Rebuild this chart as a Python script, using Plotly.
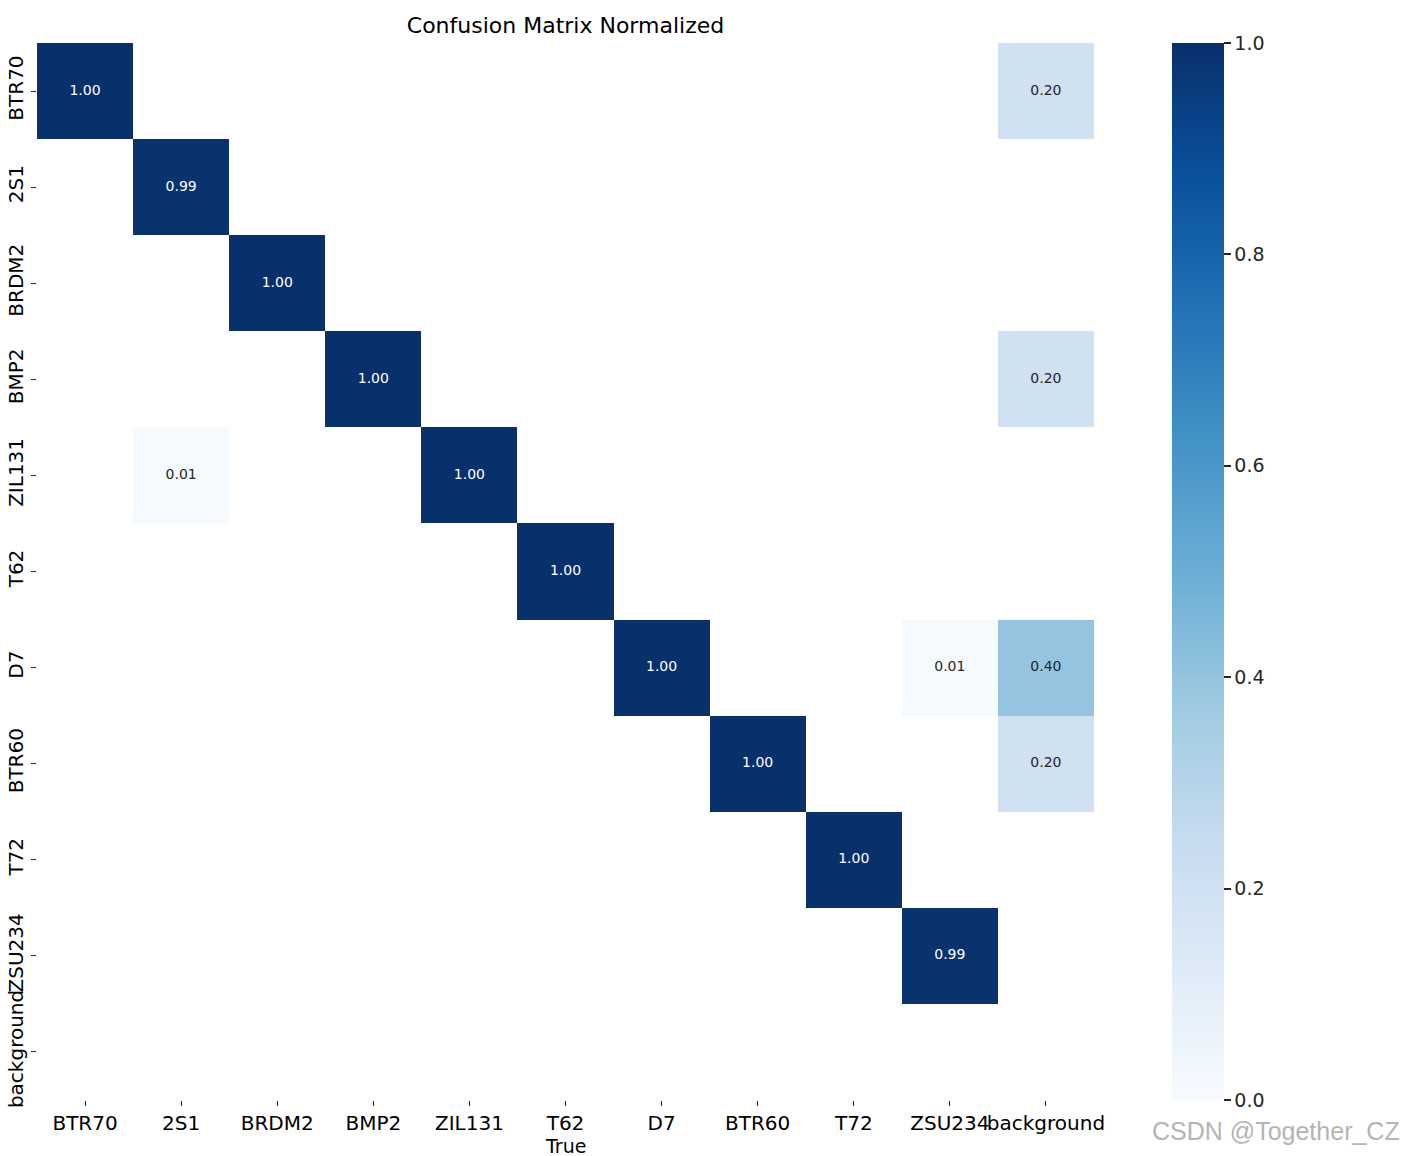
import numpy as np
import plotly.graph_objects as go

labels = ["BTR70", "2S1", "BRDM2", "BMP2", "ZIL131", "T62", "D7", "BTR60", "T72", "ZSU234", "background"]

# rows = predicted, columns = true; None = masked (< 0.005)
row_BTR70 = [1.00, None, None, None, None, None, None, None, None, None, 0.20]
row_2S1 = [None, 0.99, None, None, None, None, None, None, None, None, None]
row_BRDM2 = [None, None, 1.00, None, None, None, None, None, None, None, None]
row_BMP2 = [None, None, None, 1.00, None, None, None, None, None, None, 0.20]
row_ZIL131 = [None, 0.01, None, None, 1.00, None, None, None, None, None, None]
row_T62 = [None, None, None, None, None, 1.00, None, None, None, None, None]
row_D7 = [None, None, None, None, None, None, 1.00, None, None, 0.01, 0.40]
row_BTR60 = [None, None, None, None, None, None, None, 1.00, None, None, 0.20]
row_T72 = [None, None, None, None, None, None, None, None, 1.00, None, None]
row_ZSU234 = [None, None, None, None, None, None, None, None, None, 0.99, None]
row_background = [None] * 11

matrix = [row_BTR70, row_2S1, row_BRDM2, row_BMP2, row_ZIL131, row_T62,
          row_D7, row_BTR60, row_T72, row_ZSU234, row_background]

colorbar_ticks = [0.0, 0.2, 0.4, 0.6, 0.8, 1.0]

W, H = 1406, 1156
FONT = "DejaVu Sans"
TXT = "#262626"

z = np.array([[np.nan if v is None else v for v in r] for r in matrix], dtype=float)
n = len(labels)

fig = go.Figure()
fig.add_trace(go.Heatmap(
    z=z, x=labels, y=labels, colorscale="Blues", zmin=0, zmax=1,
    hoverongaps=False,
    colorbar=dict(
        x=1172 / W, xanchor="left", xref="paper", xpad=0,
        y=1 - 43 / H, yanchor="top", yref="paper", ypad=0,
        len=1057 / H, lenmode="fraction", thickness=52, thicknessmode="pixels",
        outlinewidth=0, tickvals=colorbar_ticks, tickformat=".1f", tickprefix="\u00a0\u00a0",
        ticks="outside", ticklen=7, tickwidth=1.5, tickcolor=TXT,
        tickfont=dict(family=FONT, size=19, color=TXT),
    ),
))

tx, ty, tt, tc = [], [], [], []
for i, r in enumerate(matrix):
    for j, v in enumerate(r):
        if v is not None:
            tx.append(labels[j]); ty.append(labels[i])
            tt.append(f"{v:.2f}")
            tc.append("white" if v > 0.5 else TXT)
fig.add_trace(go.Scatter(
    x=tx, y=ty, text=tt, mode="text", textposition="middle center",
    textfont=dict(family=FONT, size=14, color=tc), hoverinfo="skip", showlegend=False,
))

fig.update_layout(
    width=W, height=H, margin=dict(l=0, r=0, t=0, b=0, autoexpand=False),
    paper_bgcolor="white", plot_bgcolor="white",
    font=dict(family=FONT, size=20, color=TXT),
    title=dict(text="Confusion Matrix Normalized", x=565.5 / W, xref="paper", xanchor="center",
               y=1 - 25 / H, yref="container", yanchor="middle",
               font=dict(family=FONT, size=22, color="black")),
    xaxis=dict(domain=[37 / W, 1094 / W], type="category", categoryorder="array", categoryarray=labels,
               range=[-0.5, n - 0.5], autorange=False,
               showgrid=False, zeroline=False, showline=False,
               ticks="outside", ticklen=5, tickwidth=1.2, tickcolor=TXT, tickangle=0,
               tickfont=dict(family=FONT, size=20, color="black"),
               automargin=False),
    yaxis=dict(domain=[1 - 1100 / H, 1 - 43 / H], type="category", categoryorder="array", categoryarray=labels,
               range=[n - 0.5, -0.5], autorange=False, showgrid=False, zeroline=False, showline=False,
               ticks="outside", ticklen=5, tickwidth=1.2, tickcolor=TXT, tickangle=-90,
               tickfont=dict(family=FONT, size=20, color="black"), automargin=False),
    annotations=[
        dict(text="True", x=565.5 / W, y=1 - 1146 / H, xref="paper", yref="paper",
             xanchor="center", yanchor="middle", showarrow=False,
             font=dict(family=FONT, size=19, color="black")),
        dict(text="CSDN @Together_CZ", x=1402 / W, y=1 - 1131 / H, xref="paper", yref="paper",
             xanchor="right", yanchor="middle", showarrow=False,
             font=dict(family="Liberation Sans Narrow, Liberation Sans", size=25, color="#b4b4b4")),
    ],
)

fig.write_html("out.html", config={"displayModeBar": False},
               post_script="document.body.style.margin='0';")
